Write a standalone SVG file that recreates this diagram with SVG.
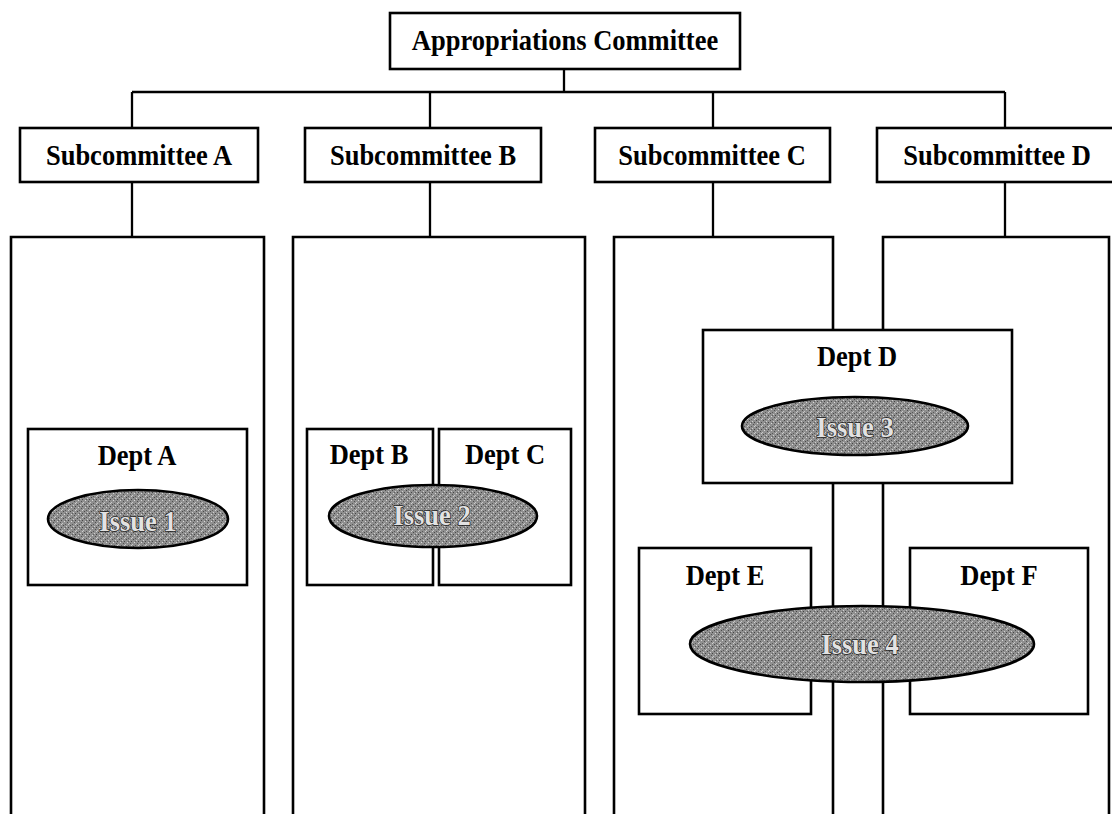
<svg xmlns="http://www.w3.org/2000/svg" width="1112" height="814" viewBox="0 0 1112 814">
<style>
.box{fill:#fff;stroke:#000;stroke-width:2.6}
.col{fill:none;stroke:#000;stroke-width:2.6}
.ln{fill:none;stroke:#000;stroke-width:2.3}
.t{font-family:"Liberation Serif",serif;font-weight:bold;font-size:26.5px;fill:#000;text-anchor:middle}
.iss{fill:url(#stip);stroke:#000;stroke-width:2.6}
.it{font-family:"Liberation Serif",serif;font-weight:bold;font-size:26.5px;fill:#e2e2e2;stroke:#1e1e1e;stroke-width:1.3;paint-order:stroke;text-anchor:middle}
</style>
<defs>
<pattern id="stip" width="7" height="7" patternUnits="userSpaceOnUse">
<rect width="7" height="7" fill="#8f8f8f"/>
<rect x="0" y="0" width="1" height="1" fill="#4a4a4a"/>
<rect x="3" y="1" width="1" height="1" fill="#cfcfcf"/>
<rect x="5" y="2" width="1" height="1" fill="#444"/>
<rect x="1" y="3" width="1" height="1" fill="#d8d8d8"/>
<rect x="4" y="4" width="1" height="1" fill="#505050"/>
<rect x="6" y="5" width="1" height="1" fill="#c8c8c8"/>
<rect x="2" y="6" width="1" height="1" fill="#585858"/>
<rect x="2" y="2" width="1" height="1" fill="#606060"/>
<rect x="5" y="6" width="1" height="1" fill="#d0d0d0"/>
</pattern>
</defs>
<rect width="1112" height="814" fill="#fff"/>

<g id="connectors">
<path class="ln" d="M564,69 V92 M132,92 H1005 M132,92 V128 M430,92 V128 M713,92 V128 M1005,92 V128"/>
<path class="ln" d="M132,182 V237 M430,182 V237 M713,182 V237 M1005,182 V237"/>
</g>

<g id="columns">
<path id="col-a" class="col" d="M11,816 V237 H264 V816"/>
<path id="col-b" class="col" d="M293,816 V237 H585 V816"/>
<path id="col-c" class="col" d="M614,816 V237 H833 V816"/>
<path id="col-d" class="col" d="M883,816 V237 H1109 V816"/>
</g>

<g id="appropriations">
<rect class="box" x="390" y="13" width="350" height="56"/>
<text class="t" transform="matrix(1,0,0,1.13,565,50)">Appropriations Committee</text>
</g>
<g id="sub-a">
<rect class="box" x="20" y="128" width="238" height="54"/>
<text class="t" transform="matrix(1,0,0,1.13,139,165)">Subcommittee A</text>
</g>
<g id="sub-b">
<rect class="box" x="305" y="128" width="236" height="54"/>
<text class="t" transform="matrix(1,0,0,1.13,423,165)">Subcommittee B</text>
</g>
<g id="sub-c">
<rect class="box" x="595" y="128" width="235" height="54"/>
<text class="t" transform="matrix(1,0,0,1.13,712,165)">Subcommittee C</text>
</g>
<g id="sub-d">
<rect class="box" x="877" y="128" width="240" height="54"/>
<text class="t" transform="matrix(1,0,0,1.13,997,165)">Subcommittee D</text>
</g>

<g id="dept-a">
<rect class="box" x="28" y="429" width="219" height="156"/>
<text class="t" transform="matrix(1,0,0,1.13,137,465)">Dept A</text>
</g>
<g id="dept-b">
<rect class="box" x="307" y="429" width="126" height="156"/>
<text class="t" transform="matrix(1,0,0,1.13,369,464)">Dept B</text>
</g>
<g id="dept-c">
<rect class="box" x="439" y="429" width="132" height="156"/>
<text class="t" transform="matrix(1,0,0,1.13,505,464)">Dept C</text>
</g>
<g id="dept-d">
<rect class="box" x="703" y="330" width="309" height="153"/>
<text class="t" transform="matrix(1,0,0,1.13,857,366)">Dept D</text>
</g>
<g id="dept-e">
<rect class="box" x="639" y="548" width="172" height="166"/>
<text class="t" transform="matrix(1,0,0,1.13,725,585)">Dept E</text>
</g>
<g id="dept-f">
<rect class="box" x="910" y="548" width="178" height="166"/>
<text class="t" transform="matrix(1,0,0,1.13,999,585)">Dept F</text>
</g>

<g id="issue-1">
<ellipse class="iss" cx="138" cy="519" rx="90" ry="29"/>
<text class="it" transform="matrix(1,0,0,1.13,138,531)">Issue 1</text>
</g>
<g id="issue-2">
<ellipse class="iss" cx="433" cy="516" rx="104" ry="31"/>
<text class="it" transform="matrix(1,0,0,1.13,432,525)">Issue 2</text>
</g>
<g id="issue-3">
<ellipse class="iss" cx="855" cy="426" rx="113" ry="29"/>
<text class="it" transform="matrix(1,0,0,1.13,855,437)">Issue 3</text>
</g>
<g id="issue-4">
<ellipse class="iss" cx="862" cy="644" rx="172" ry="38"/>
<text class="it" transform="matrix(1,0,0,1.13,860,654)">Issue 4</text>
</g>
</svg>
